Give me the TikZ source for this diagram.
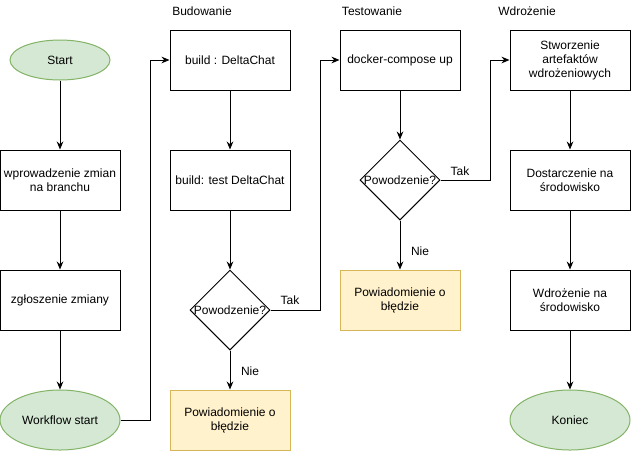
\documentclass[tikz,border=0pt]{standalone}
\usepackage{fontspec}
\setmainfont{Liberation Sans}
\usepackage{tikz}
\usetikzlibrary{shapes.geometric,arrows.meta}

\definecolor{termfill}{HTML}{D5E8D4}
\definecolor{termline}{HTML}{82B366}
\definecolor{errfill}{HTML}{FFF2CC}
\definecolor{errline}{HTML}{D6B656}

\tikzset{
    stepbox/.style={draw, line width=0.75pt, minimum width=90pt, minimum height=45pt, inner sep=0pt, align=center},
    errbox/.style={stepbox, draw=errline, fill=errfill},
    terminal/.style={ellipse, draw=termline, fill=termfill, line width=0.75pt, inner sep=0pt, minimum width=90pt, minimum height=45pt},
    decision/.style={diamond, draw, line width=0.75pt, inner sep=0pt, minimum width=60pt, minimum height=60pt},
    flow/.style={line width=0.75pt, -{Stealth[length=6pt,width=5pt]}},
    plain/.style={line width=0.75pt}
}

\begin{document}
\begin{tikzpicture}[x=0.75pt, y=-0.75pt, font=\fontsize{9}{10.5}\selectfont]

    \useasboundingbox (0,0) rectangle (631,451);

    % Column headers
    \node (hbud) at (202,11) {Budowanie};
    \node (htest) at (372,11) {Testowanie};
    \node (hwdr) at (527,11) {Wdrożenie};

    % Left column: changes
    \node[terminal, minimum width=75pt, minimum height=30pt] (start) at (60,60) {Start};
    \node[stepbox] (zmiany) at (60,180) {wprowadzenie zmian\\na branchu};
    \node[stepbox] (zgloszenie) at (60,300) {zgłoszenie zmiany};
    \node[terminal] (wfstart) at (60,420) {Workflow start};

    % Build column
    \node[stepbox] (build) at (230,60) {build : DeltaChat};
    \node[stepbox] (buildtest) at (230,180) {build: test DeltaChat};
    \node[decision] (okbuild) at (230,310) {\makebox[0pt]{Powodzenie?}};
    \node[errbox] (errbuild) at (230,420) {Powiadomienie o\\błędzie};

    % Test column
    \node[stepbox] (docker) at (400,60) {docker-compose up};
    \node[decision] (oktest) at (400,180) {\makebox[0pt]{Powodzenie?}};
    \node[errbox] (errtest) at (400,300) {Powiadomienie o\\błędzie};

    % Deploy column
    \node[stepbox] (artefakty) at (570,60) {Stworzenie\\artefaktów\\wdrożeniowych};
    \node[stepbox] (dostarczenie) at (570,180) {Dostarczenie na\\środowisko};
    \node[stepbox] (wdrozenie) at (570,300) {Wdrożenie na\\środowisko};
    \node[terminal] (koniec) at (570,420) {Koniec};

    % Bends of the connectors
    \coordinate (bendwf) at (150,420);
    \coordinate (bendbuild) at (320,310);
    \coordinate (bendtest) at (490,180);

    % Connectors
    \draw[flow] (start) -- (zmiany);
    \draw[flow] (zmiany) -- (zgloszenie);
    \draw[flow] (zgloszenie) -- (wfstart);
    \draw[flow] (wfstart) -- (bendwf) |- (build);

    \draw[flow] (build) -- (buildtest);
    \draw[flow] (buildtest) -- (okbuild);
    \draw[flow] (okbuild) -- (errbuild);
    \draw[flow] (okbuild) -- (bendbuild) |- (docker);

    \draw[flow] (docker) -- (oktest);
    \draw[flow] (oktest) -- (errtest);
    \draw[flow] (oktest) -- (bendtest) |- (artefakty);

    \draw[flow] (artefakty) -- (dostarczenie);
    \draw[flow] (dostarczenie) -- (wdrozenie);
    \draw[flow] (wdrozenie) -- (koniec);

    % Labels for the decisions
    \node (takbuild) at (290,300) {Tak};
    \node (niebuild) at (250,371) {Nie};
    \node (taktest) at (460,171) {Tak};
    \node (nietest) at (420,251) {Nie};
\end{tikzpicture}
\end{document}
